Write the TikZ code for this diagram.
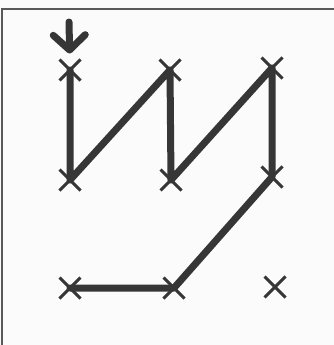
\documentclass[tikz,border=0pt]{standalone}
\usetikzlibrary{arrows.meta,shapes.misc}
\definecolor{pen}{HTML}{363636}
\begin{document}
\begin{tikzpicture}[x=1pt,y=-1pt,>={Straight Barb[length=15pt,width=32pt,line width=7pt,round]}]
  \tikzset{dot/.style={draw=pen,cross out,line width=3pt,minimum size=18pt,inner sep=0pt},
    trace/.style={draw=pen,line width=7pt,line join=round,line cap=round}}
  \useasboundingbox (0,0) rectangle (334,345);
  \fill[gray!3] (0,0) rectangle (334,345);
  \draw[gray!70!black,line width=1.5pt] (334,9) -- (2,9) -- (2,345);
  % grid of dots
  \node[dot] (a1) at (70,70) {};
  \node[dot] (a2) at (170,70) {};
  \node[dot] (a3) at (272,68) {};
  \node[dot] (b1) at (70,180) {};
  \node[dot] (b2) at (171,180) {};
  \node[dot] (b3) at (272,177) {};
  \node[dot] (c1) at (70,288) {};
  \node[dot] (c2) at (174,288) {};
  \node[dot] (c3) at (275,287) {};
  % start
  \coordinate (in) at (69,22);
  \draw[trace,->,shorten >=6pt] (in) -- (a1);
  % pattern
  \draw[trace] (a1.center) -- (b1.center) -- (a2.center) -- (b2.center)
    -- (a3.center) -- (b3.center) -- (c2.center) -- (c1.center);
\end{tikzpicture}
\end{document}
